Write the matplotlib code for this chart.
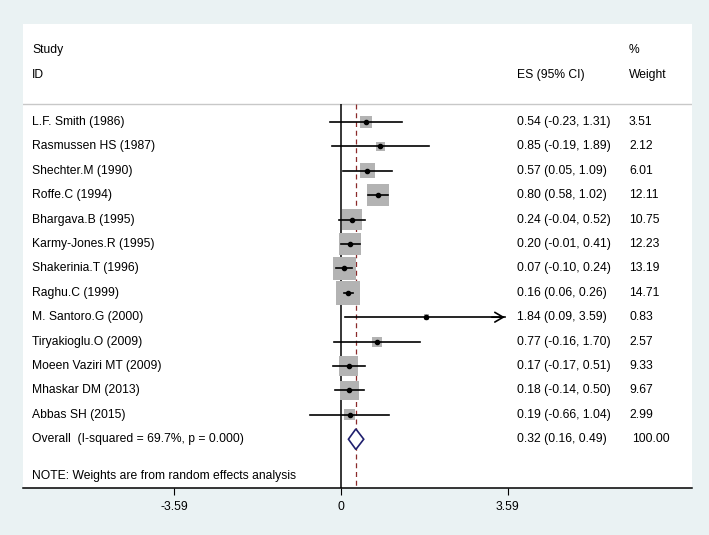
import matplotlib.pyplot as plt
from matplotlib.patches import Polygon

plt.rcParams['font.family'] = ['Liberation Sans', 'DejaVu Sans']

studies = ["L.F. Smith (1986)", "Rasmussen HS (1987)", "Shechter.M (1990)",
           "Roffe.C (1994)", "Bhargava.B (1995)", "Karmy-Jones.R (1995)",
           "Shakerinia.T (1996)", "Raghu.C (1999)", "M. Santoro.G (2000)",
           "Tiryakioglu.O (2009)", "Moeen Vaziri MT (2009)", "Mhaskar DM (2013)",
           "Abbas SH (2015)"]
es = [0.54, 0.85, 0.57, 0.80, 0.24, 0.20, 0.07, 0.16, 1.84, 0.77, 0.17, 0.18, 0.19]
lo = [-0.23, -0.19, 0.05, 0.58, -0.04, -0.01, -0.10, 0.06, 0.09, -0.16, -0.17, -0.14, -0.66]
hi = [1.31, 1.89, 1.09, 1.02, 0.52, 0.41, 0.24, 0.26, 3.59, 1.70, 0.51, 0.50, 1.04]
weights = [3.51, 2.12, 6.01, 12.11, 10.75, 12.23, 13.19, 14.71, 0.83, 2.57, 9.33, 9.67, 2.99]

overall_label = "Overall  (I-squared = 69.7%, p = 0.000)"
overall_es, overall_lo, overall_hi = 0.32, 0.16, 0.49
overall_weight = "100.00"
note = "NOTE: Weights are from random effects analysis"
xticks = [-3.59, 0, 3.59]
clip = 3.59

W, H = 709, 535
fig = plt.figure(figsize=(W / 100, H / 100), dpi=100, facecolor='#eaf2f3')
# white plotting panel: x 23..692 px, y 24..488 px
ax = fig.add_axes([23 / W, (H - 488) / H, (692 - 23) / W, (488 - 24) / H])
ax.set_facecolor('white')

ppu = 46.4  # pixels per effect-size unit, 0 at x=341
ax.set_xlim((23 - 341) / ppu, (692 - 341) / ppu)
row = 24.4  # row spacing in px, first row at y=122
ax.set_ylim((488 - 122) / row, (24 - 122) / row)

def px(x):
    return (x - 341) / ppu

def py(y):
    return (y - 122) / row

fs = 8.7
x_text = px(32)
x_es = px(517)
x_w = px(629)

ax.text(x_text, py(50), "Study", fontsize=fs, va='center')
ax.text(x_text, py(75), "ID", fontsize=fs, va='center')
ax.text(x_es, py(75), "ES (95% CI)", fontsize=fs, va='center')
ax.text(x_w, py(50), "%", fontsize=fs, va='center')
ax.text(x_w, py(75), "Weight", fontsize=fs, va='center')

sep = py(104)
ax.axhline(sep, color='#c8c8c8', lw=1)

n = len(studies)
ys = list(range(n))
ax.vlines(0, sep, py(488), color='black', lw=1.1, zorder=2)
ax.vlines(overall_es, sep, py(488), color='#8b2a2a', lw=0.9, linestyles=(0, (4, 3)), zorder=2)

ax.scatter(es, ys, s=[20.3 * w for w in weights], marker='s', color='#b3b3b3',
           linewidths=0, zorder=3)
for i in range(n):
    if hi[i] >= clip:
        ax.plot([lo[i], clip - 0.05], [i, i], color='black', lw=1.2, zorder=4)
        ax.annotate("", xy=(clip, i), xytext=(clip - 0.4, i),
                    arrowprops=dict(arrowstyle='->,head_length=0.6,head_width=0.35',
                                    color='black', lw=1.2), zorder=4)
    else:
        ax.plot([lo[i], hi[i]], [i, i], color='black', lw=1.2, zorder=4)
ax.scatter(es, ys, s=9, color='black', zorder=5)

for i in range(n):
    ax.text(x_text, i, studies[i], fontsize=fs, va='center')
    ax.text(x_es, i, f"{es[i]:.2f} ({lo[i]:.2f}, {hi[i]:.2f})", fontsize=fs, va='center')
    ax.text(x_w, i, f"{weights[i]:.2f}", fontsize=fs, va='center')

yo = n
dh = 0.42
diamond = Polygon([[overall_lo, yo], [overall_es, yo - dh], [overall_hi, yo],
                   [overall_es, yo + dh]], closed=True, facecolor='white',
                  edgecolor='#1f1f6e', lw=1.2, zorder=5)
ax.add_patch(diamond)
ax.text(x_text, yo, overall_label, fontsize=fs, va='center')
ax.text(x_es, yo, f"{overall_es:.2f} ({overall_lo:.2f}, {overall_hi:.2f})", fontsize=fs, va='center')
ax.text(px(632), yo, overall_weight, fontsize=fs, va='center')

ax.text(x_text, py(476), note, fontsize=fs, va='center')

for s in ['top', 'left', 'right']:
    ax.spines[s].set_visible(False)
ax.spines['bottom'].set_linewidth(1.1)
ax.set_yticks([])
ax.set_xticks(xticks)
ax.set_xticklabels(["-3.59", "0", "3.59"], fontsize=fs)
ax.tick_params(axis='x', length=5, width=0.8, pad=4)

fig.savefig("out.png", dpi=100, facecolor=fig.get_facecolor())
